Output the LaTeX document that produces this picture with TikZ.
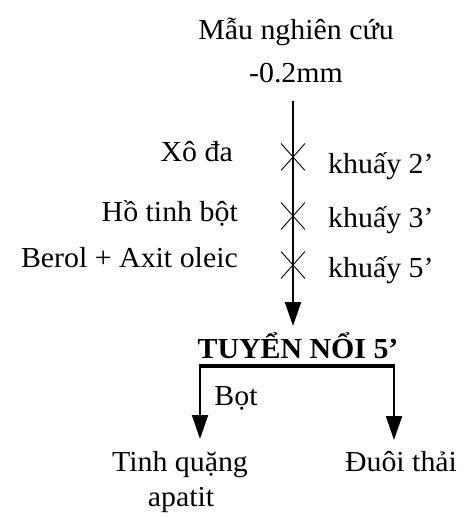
\documentclass[tikz,border=0pt]{standalone}
\usepackage{fontspec}
\setmainfont[FakeStretch=1.03]{Liberation Serif}
\usetikzlibrary{arrows.meta,shapes.misc}
\begin{document}
\begin{tikzpicture}[x=1pt,y=1pt,
  lbl/.style={inner sep=0pt, anchor=base, font=\fontsize{29}{34}\selectfont},
  flow/.style={line width=2pt},
  tip/.style={-{Triangle[length=24pt,width=16pt]}},
  mix/.style={cross out, draw, line width=0.9pt, minimum width=23pt,
              minimum height=26pt, inner sep=0pt}]
\useasboundingbox (0,0) rectangle (470,-518);

% feed sample
\node[lbl] (sample) at (296,-40) {Mẫu nghiên cứu};
\node[lbl] (size) at (296,-83) {-0.2mm};

% main feed line with reagent additions
\coordinate (feed) at (293,-101);
\coordinate (cell) at (293,-326);
\draw[flow,tip] (feed) -- (cell);

\node[mix] (m1) at (293,-157) {};
\node[mix] (m2) at (293,-216) {};
\node[mix] (m3) at (293,-265) {};

\node[lbl, anchor=base east] (r1) at (233,-162) {Xô đa};
\node[lbl, anchor=base east] (r2) at (238,-222) {Hồ tinh bột};
\node[lbl, anchor=base east] (r3) at (238,-267) {Berol + Axit oleic};

\node[lbl, anchor=base west] (t1) at (328,-174) {khuấy 2’};
\node[lbl, anchor=base west] (t2) at (328,-227) {khuấy 3’};
\node[lbl, anchor=base west] (t3) at (328,-277) {khuấy 5’};

% flotation stage and its products
\node[lbl, font=\bfseries\fontsize{29}{34}\selectfont] (flot) at (298,-358) {TUYỂN NỔI 5’};
\coordinate (bl) at (200,-366);
\coordinate (br) at (394,-366);
\draw[line width=4pt] ([xshift=-1pt]bl) -- ([xshift=1pt]br);

\coordinate (cl) at (200,-439);
\coordinate (cr) at (394,-440);
\draw[flow,tip] (bl) -- (cl);
\draw[flow,tip] (br) -- (cr);

\node[lbl] (froth) at (236,-405) {Bọt};
\node[lbl] (conc) at (180,-471) {Tinh quặng};
\node[lbl] (conc2) at (181,-506) {apatit};
\node[lbl] (tail) at (401,-471) {Đuôi thải};
\end{tikzpicture}
\end{document}
